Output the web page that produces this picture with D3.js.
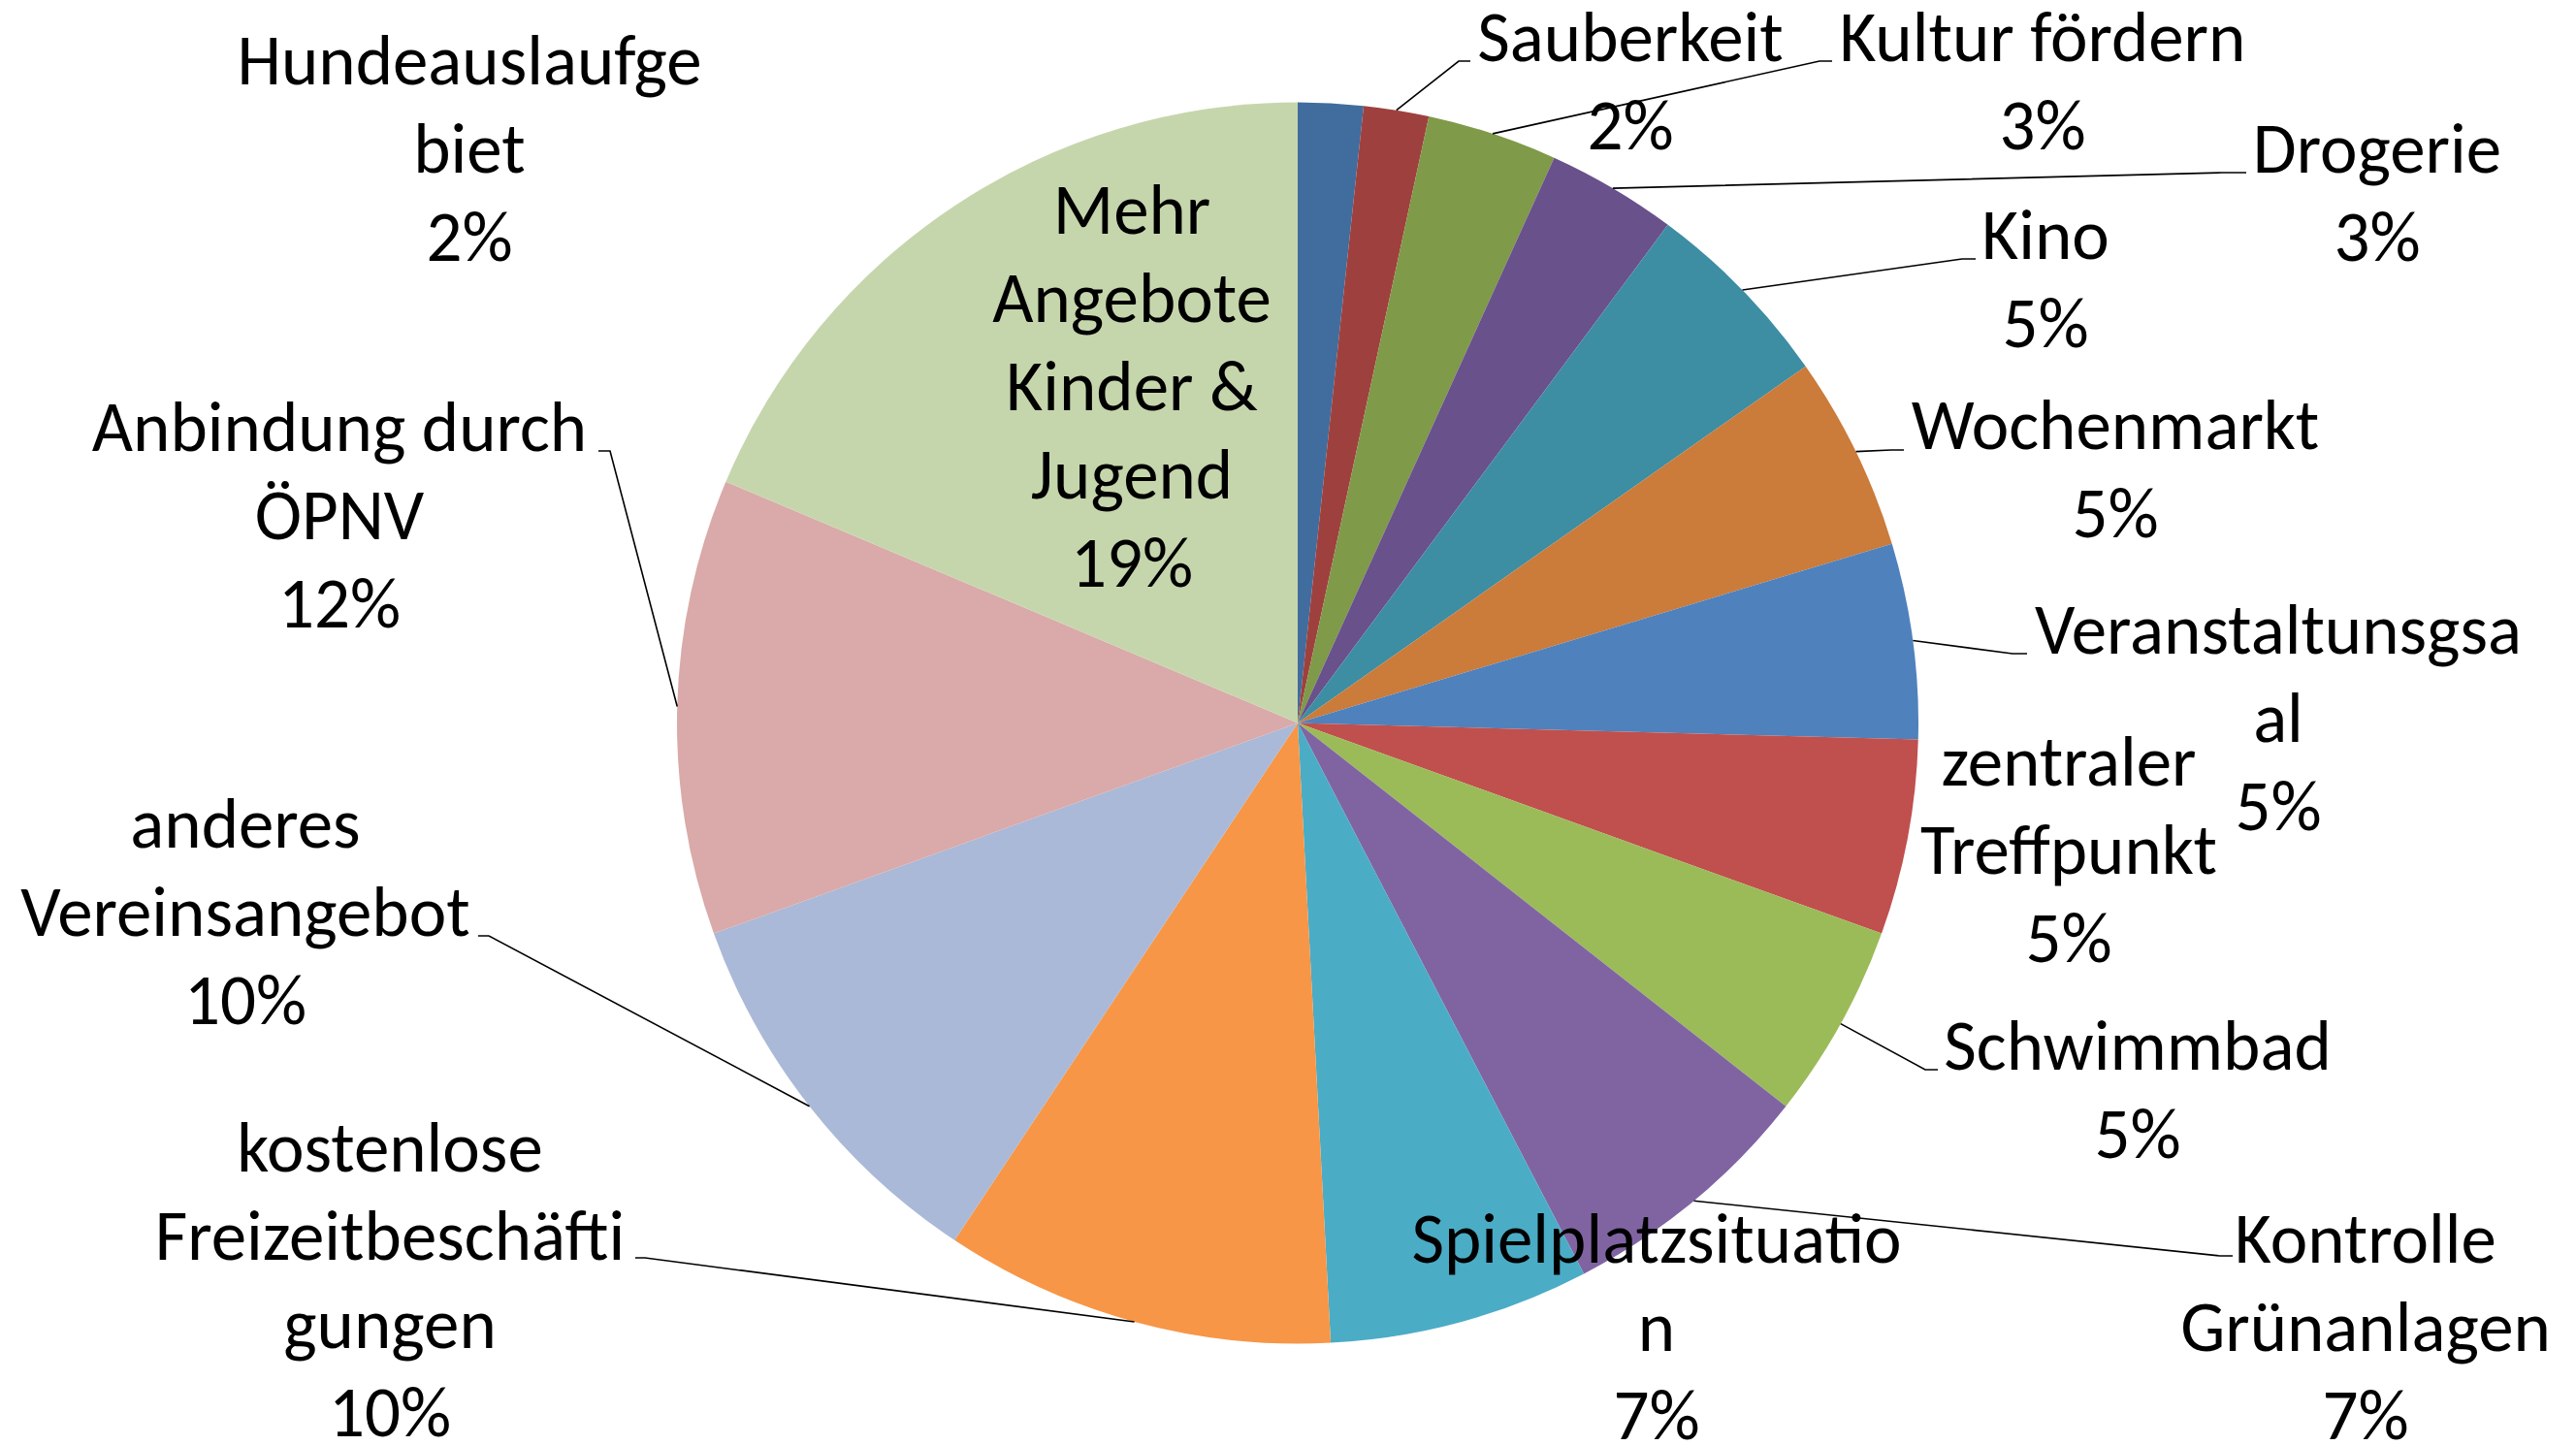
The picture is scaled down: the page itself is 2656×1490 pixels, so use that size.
<!DOCTYPE html>
<html>
<head>
<meta charset="utf-8">
<script src="https://cdn.jsdelivr.net/npm/d3@7"></script>
<style>
  body { margin: 0; background: #fff; }
  svg text { font-family: Carlito, Calibri, Lato, sans-serif; font-size: 73px; fill: #000; }
</style>
</head>
<body>
<div id="chart"></div>
<script>
// categories as wrapped in the chart ("\n" = line break)
const categories = [
  "Hundeauslaufge\nbiet", "Sauberkeit", "Kultur fördern", "Drogerie", "Kino",
  "Wochenmarkt", "Veranstaltunsgsa\nal", "zentraler\nTreffpunkt", "Schwimmbad",
  "Kontrolle\nGrünanlagen", "Spielplatzsituatio\nn", "kostenlose\nFreizeitbeschäfti\ngungen",
  "anderes\nVereinsangebot", "Anbindung durch\nÖPNV", "Mehr\nAngebote\nKinder &\nJugend"
];
const counts = [1, 1, 2, 2, 3, 3, 3, 3, 3, 4, 4, 6, 6, 7, 11];

const colors = [
  "#416c9e", "#9e413e", "#7f9a48", "#69518b", "#3d8da3", "#cb7b3a",
  "#4f81bd", "#c0504d", "#9bbb59", "#8064a2", "#4bacc6", "#f79646",
  "#aab9d7", "#d9aaa9", "#c6d6ac"
];

// label layout: text centre x, first baseline y
const labelPos = [
  [484, 87], [1681, 63], [2106, 63], [2451, 178], [2109, 267],
  [2181, 463], [2349, 674], [2133, 810], [2204, 1103],
  [2439, 1302], [1708, 1302], [402, 1208],
  [253, 874], [350, 465], [1167, 241]
];
// leader lines: elbow x, elbow y, stub end x (null = no leader)
const leaders = [
  null, [1504, 63, 1516], [1876, 63, 1889], [2291, 178, 2316], [2023, 267, 2037],
  [1950, 464, 1963], [2075, 674, 2090], null, [1985, 1103, 1998],
  [2289, 1295, 2302], null, [665, 1297, 655],
  [504, 965, 493], [629, 465, 617], null
];

const width = 2656, height = 1490;
const cx = 1338, cy = 745.5, r = 640;
const lineGap = 91;

const svg = d3.select("#chart").append("svg")
  .attr("width", width)
  .attr("height", height);

const total = d3.sum(counts);
const pie = d3.pie().sort(null).value(d => d);
const arcs = pie(counts);
const arc = d3.arc().innerRadius(0).outerRadius(r);

const g = svg.append("g").attr("transform", "translate(" + cx + "," + cy + ")");

g.selectAll("path.slice")
  .data(arcs)
  .enter().append("path")
  .attr("class", "slice")
  .attr("d", arc)
  .attr("fill", (d, i) => colors[i]);

// leader lines from the slice's outer edge to the label
const line = d3.line();
arcs.forEach((d, i) => {
  const l = leaders[i];
  if (!l) return;
  const a = (d.startAngle + d.endAngle) / 2;
  const start = [cx + r * Math.sin(a), cy - r * Math.cos(a)];
  svg.append("path")
    .attr("d", line([start, [l[0], l[1]], [l[2], l[1]]]))
    .attr("fill", "none")
    .attr("stroke", "#000")
    .attr("stroke-width", 1.6);
});

// labels
arcs.forEach((d, i) => {
  const lines = categories[i].split("\n").concat([Math.round(counts[i] / total * 100) + "%"]);
  const t = svg.append("text")
    .attr("text-anchor", "middle");
  lines.forEach((s, j) => {
    t.append("tspan")
      .attr("x", labelPos[i][0])
      .attr("y", labelPos[i][1] + j * lineGap)
      .text(s);
  });
});
</script>
</body>
</html>
